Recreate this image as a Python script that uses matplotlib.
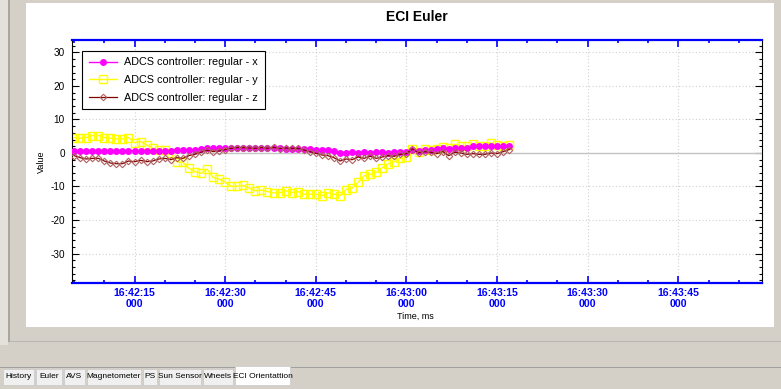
import matplotlib
matplotlib.use("Agg")
import matplotlib.pyplot as plt
import matplotlib.ticker as mticker
from matplotlib.patches import Rectangle
import numpy as np

plt.rcParams["axes.unicode_minus"] = False

W, H = 781, 389

# seconds after 16:42:00, one sample per second
T_START = 5
x_vals = [0.5, 0.6, 0.6, 0.5, 0.6, 0.6, 0.5, 0.6, 0.6, 0.7,
          0.7, 0.7, 0.6, 0.6, 0.6, 0.7, 0.7, 0.8, 0.9, 0.9,
          1.0, 1.2, 1.4, 1.4, 1.4, 1.4, 1.5, 1.4, 1.5, 1.4,
          1.5, 1.4, 1.5, 1.4, 1.5, 1.3, 1.3, 1.2, 1.2, 1.2,
          0.9, 0.9, 0.9, 0.5, 0.1, 0.1, 0.2, 0.1, 0.2, 0.1,
          0.2, 0.2, 0.1, 0.2, 0.3, 0.4, 0.9, 0.7, 0.9, 0.9,
          1.1, 1.4, 1.2, 1.6, 1.6, 1.6, 2.0, 2.0, 2.0, 2.2,
          2.2, 2.1, 2.1]
y_vals = [4.6, 4.4, 4.6, 5.2, 5.2, 4.6, 4.4, 4.2, 4.2, 4.6,
          3.1, 3.4, 2.4, 1.4, 0.9, 0.9, -0.1, -2.6, -2.8, -4.6,
          -5.6, -6.1, -4.8, -7.3, -7.8, -8.6, -10.0, -9.9, -9.7, -10.5,
          -11.3, -11.1, -11.5, -11.9, -11.9, -11.3, -11.8, -11.5, -12.3, -12.3,
          -12.3, -12.7, -11.9, -12.3, -12.7, -10.9, -10.5, -8.7, -6.8, -6.4,
          -5.8, -4.4, -3.2, -2.6, -1.6, -1.1, 1.2, 0.2, 1.2, 1.0,
          1.2, 1.8, 1.4, 2.6, 2.2, 2.0, 2.6, 2.2, 2.2, 3.0,
          2.4, 2.2, 2.4]
z_vals = [-0.8, -1.4, -1.8, -1.6, -1.6, -2.4, -3.0, -3.2, -3.2, -2.4,
          -2.6, -2.2, -2.6, -2.4, -1.8, -1.6, -2.0, -1.4, -1.6, -0.8,
          -0.4, 0.2, 0.8, 0.4, 0.6, 1.0, 1.4, 1.6, 1.6, 1.5,
          1.4, 1.6, 1.4, 1.7, 1.3, 1.5, 1.4, 1.4, 0.9, 0.4,
          -0.1, -0.6, -0.8, -1.4, -2.4, -1.8, -2.0, -1.2, -1.6, -1.0,
          -1.6, -1.2, -0.8, -1.0, -0.4, -0.2, 1.2, 0.0, 0.4, 0.2,
          -0.2, 0.4, -0.8, 0.2, 0.0, -0.4, -0.2, -0.4, -0.4, 0.0,
          -0.2, 0.4, 1.0]
labels = ["ADCS controller: regular - x", "ADCS controller: regular - y",
          "ADCS controller: regular - z"]
tabs = ["History", "Euler", "AVS", "Magnetometer", "PS", "Sun Sensor",
        "Wheels", "ECI Orientattion"]
tab_edges = [2, 35, 63, 86, 142, 158, 202, 234, 291]

GUI_GRAY = "#d4d0c8"
BLUE = "#0000ff"


def px_rect(fig, x0, y0, x1, y1, **kw):
    """rectangle in screen pixels (origin top-left), drawn under the axes"""
    r = Rectangle((x0 / W, 1 - y1 / H), (x1 - x0) / W, (y1 - y0) / H,
                  transform=fig.transFigure, zorder=-10, **kw)
    fig.patches.append(r)
    return r


def fmt_time(v, pos):
    s = int(round(v))
    return f"16:{42 + s // 60:02d}:{s % 60:02d}\n000"


fig = plt.figure(figsize=(W / 100, H / 100), dpi=100, facecolor=GUI_GRAY)

# ── window chrome ─────────────────────────────────────────────────────────────
px_rect(fig, 0, 0, 8, 345, facecolor="#e4e1da", edgecolor="none")
px_rect(fig, 8, 0, 10, 342, facecolor="#a8a6a0", edgecolor="none")
px_rect(fig, 10, 341, 781, 342, facecolor="#b8b6b0", edgecolor="none")
px_rect(fig, 26, 3, 774, 327, facecolor="white", edgecolor="none")
px_rect(fig, 0, 367, 781, 368, facecolor="#a0a0a0", edgecolor="none")
for i, name in enumerate(tabs):
    x0, x1 = tab_edges[i], tab_edges[i + 1]
    sel = name == tabs[-1]
    px_rect(fig, x0 + 1, 366 if sel else 369, x1 - 1, 385,
            facecolor="white" if sel else "#f0f0f0",
            edgecolor="#c8c8c8", linewidth=0.5)
    fig.text((x0 + x1) / 2 / W, 1 - 377 / H, name, ha="center", va="center",
             fontsize=6.0, family="Liberation Sans", color="black")

# ── plot ──────────────────────────────────────────────────────────────────────
ax = fig.add_axes([71.7 / W, 1 - 282.7 / H, 690 / W, 242.7 / H])
ax.set_facecolor("white")
t = T_START + np.arange(len(x_vals))

ax.axhline(0, color="#c4c4c4", lw=1.0, zorder=1)
ax.plot(t, x_vals, color="#ff00ff", lw=1.0, marker="o", ms=4.0,
        mfc="#ff00ff", mec="#ff00ff", label=labels[0], zorder=3)
ax.plot(t, y_vals, color="#ffff00", lw=1.0, marker="s", ms=5.5,
        mfc="none", mec="#ffff00", mew=1.0, label=labels[1], zorder=2)
ax.plot(t, z_vals, color="#800000", lw=0.9, marker="D", ms=3.3,
        mfc="none", mec="#b06060", mew=0.8, label=labels[2], zorder=4)

ax.set_xlim(4.6, 118.8)
ax.set_ylim(-38.7, 33.7)

ax.xaxis.set_major_locator(mticker.MultipleLocator(15))
ax.xaxis.set_minor_locator(mticker.MultipleLocator(5))
ax.xaxis.set_major_formatter(mticker.FuncFormatter(fmt_time))
ax.yaxis.set_major_locator(mticker.MultipleLocator(10))
ax.yaxis.set_minor_locator(mticker.MultipleLocator(2))

ax.grid(True, which="major", color="#d0d0d0", ls=(0, (1, 2)), lw=0.8)
ax.set_axisbelow(True)

for side in ("top", "bottom"):
    ax.spines[side].set_color(BLUE)
    ax.spines[side].set_linewidth(1.6)
for side in ("left", "right"):
    ax.spines[side].set_color("black")
    ax.spines[side].set_linewidth(0.8)

ax.tick_params(axis="x", which="both", direction="in", colors=BLUE,
               top=True, bottom=True, width=1.2)
ax.tick_params(axis="x", which="major", length=5, pad=4)
ax.tick_params(axis="x", which="minor", length=2.5)
for lab in ax.get_xticklabels():
    lab.set_fontweight("bold")
    lab.set_fontsize(7.6)
    lab.set_family("Liberation Sans")
    lab.set_linespacing(1.12)

ax.tick_params(axis="y", which="both", direction="in", right=True,
               left=True, colors="black", labelcolor="black", width=0.8)
ax.tick_params(axis="y", which="major", length=5, labelsize=7.2, pad=5)
ax.tick_params(axis="y", which="minor", length=2.5)
for lab in ax.get_yticklabels():
    lab.set_family("Liberation Sans")

ax.set_ylabel("Value", fontsize=6.5, family="Liberation Sans", labelpad=3)
fig.text(415 / W, 1 - 316 / H, "Time, ms", ha="center", va="center",
         fontsize=6.5, family="Liberation Sans")
fig.text(417 / W, 1 - 17 / H, "ECI Euler", ha="center", va="center",
         fontsize=10, fontweight="bold", family="Liberation Sans")

leg = ax.legend(loc="upper left", bbox_to_anchor=(0.015, 0.955),
                borderaxespad=0, fancybox=False, framealpha=1,
                edgecolor="black", handlelength=2.6, labelspacing=0.7,
                borderpad=0.6, handletextpad=0.7,
                prop={"family": "Liberation Sans", "size": 7.8})
leg.get_frame().set_linewidth(0.8)

fig.savefig("out.png", dpi=100, facecolor=GUI_GRAY)
